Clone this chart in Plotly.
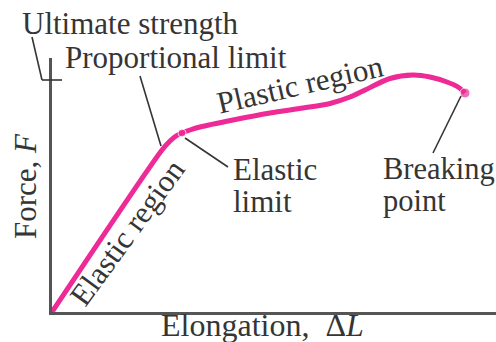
import plotly.graph_objects as go

# Stress-strain style curve (arbitrary units)
elongation = [0.0, 2.75, 2.95, 3.10, 3.25, 3.45, 3.70, 4.525, 5.45, 6.275, 6.95,
              7.45, 7.775, 8.45, 9.025, 9.45, 9.875, 10.15, 10.325]
force = [0.0, 6.48, 6.84, 7.04, 7.16, 7.28, 7.40, 7.68, 7.96, 8.16, 8.34,
         8.60, 8.84, 9.34, 9.48, 9.40, 9.20, 9.00, 8.76]

marker_x = [3.25, 10.325]   # elastic limit, breaking point
marker_y = [7.16, 8.76]
ultimate_level = 9.28

X_MAX, Y_MAX = 11.1, 10.16

PINK = "#ED2A96"
INK = "#353535"
FONT = "Liberation Serif"

W, H = 496, 342
ML, MR, MT, MB = 52, 0, 58, 30

fig = go.Figure()
fig.add_trace(go.Scatter(x=elongation, y=force, mode="lines",
                         line=dict(color=PINK, width=5, shape="spline", smoothing=0.8),
                         hoverinfo="skip", cliponaxis=False))
fig.add_trace(go.Scatter(x=marker_x, y=marker_y, mode="markers",
                         marker=dict(color=PINK, size=[8, 10]),
                         hoverinfo="skip", cliponaxis=False))

# leader lines (given in data units, drawn in paper space so they are not clipped)
leaders = [
    ((-0.5, 11.0), (-0.25, ultimate_level)),
    ((-0.25, ultimate_level), (0.25, ultimate_level)),
    ((2.2, 9.44), (2.725, 6.64)),
    ((3.325, 6.96), (4.4, 5.8)),
    ((10.225, 8.64), (9.525, 6.36)),
]
for (x0, y0), (x1, y1) in leaders:
    fig.add_shape(type="line", x0=x0 / X_MAX, y0=y0 / Y_MAX, x1=x1 / X_MAX, y1=y1 / Y_MAX,
                  xref="paper", yref="paper",
                  line=dict(color=INK, width=1.6), layer="above")

def label(text, px, py, xanchor="center", angle=0, size=31):
    # label placement given in figure pixels, converted to paper coordinates
    x = (px - ML) / (W - ML - MR)
    y = (H - MB - py) / (H - MB - MT)
    fig.add_annotation(text=text, x=x, y=y, xref="paper", yref="paper", showarrow=False,
                       xanchor=xanchor, yanchor="middle", textangle=angle,
                       font=dict(family=FONT, size=size, color=INK))

label("Ultimate strength", 20, 23, xanchor="left")
label("Proportional limit", 63, 57, xanchor="left")
label("Plastic region", 300, 84, angle=-13)
label("Elastic", 231, 169, xanchor="left")
label("limit", 231, 201, xanchor="left")
label("Breaking", 381, 169, xanchor="left", size=30.5)
label("point", 381, 201, xanchor="left", size=30.5)
label("Elastic region", 127, 232, angle=-54)
label("Force, <i>F</i>", 25, 186, angle=-90)
label("Elongation,\u00a0\u00a0Δ<i>L</i>", 262, 325, size=32)

axis_common = dict(showgrid=False, zeroline=False, showticklabels=False, ticks="",
                   showline=True, linecolor="#555555", linewidth=2.5, fixedrange=True)
fig.update_layout(
    width=W, height=H,
    margin=dict(l=ML, r=MR, t=MT, b=MB),
    paper_bgcolor="white", plot_bgcolor="white",
    showlegend=False,
    xaxis=dict(range=[0, X_MAX], **axis_common),
    yaxis=dict(range=[0, Y_MAX], **axis_common),
)

fig.write_html("out.html", config={"displayModeBar": False},
               post_script="document.body.style.margin='0';")
